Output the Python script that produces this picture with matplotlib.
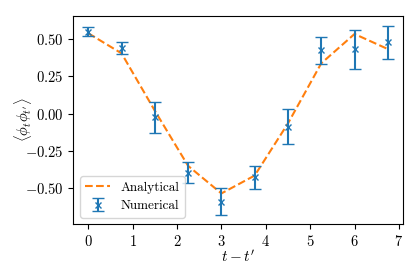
import numpy as np
import matplotlib
matplotlib.use('Agg')
from matplotlib import pyplot as plt

# font like LaTeX output
plt.rcParams['font.family'] = 'serif'
plt.rcParams['font.serif'] = ['cmr10', 'DejaVu Serif']
plt.rcParams['mathtext.fontset'] = 'cm'
plt.rcParams['axes.formatter.use_mathtext'] = True

# data
t = [0, 0.75, 1.5, 2.25, 3, 3.75, 4.5, 5.25, 6, 6.75]
analytical = [0.54, 0.405, 0.02, -0.35, -0.535, -0.415, -0.065, 0.338, 0.535, 0.434]
numerical = [0.55, 0.44, -0.025, -0.396, -0.59, -0.427, -0.087, 0.425, 0.432, 0.478]
num_err = [0.03, 0.038, 0.105, 0.07, 0.09, 0.078, 0.118, 0.092, 0.13, 0.11]

fig = plt.figure(figsize=(4.2, 2.8), dpi=100)
ax = fig.add_axes([0.1745, 0.199, 0.7845, 0.744])

ax.plot(t, analytical, '--', color='C1', label='Analytical')
ax.errorbar(t, numerical, yerr=num_err, fmt='x', color='C0', capsize=4,
            markersize=4, label='Numerical')

ax.set_xticks(range(8))
ax.set_yticks([-0.5, -0.25, 0, 0.25, 0.5])
ax.set_ylim(-0.742, 0.656)
ax.tick_params(labelsize=10.5)
ax.set_xlabel(r"$t - t'$", fontsize=11)
ax.set_ylabel(r"$\langle \phi_t \phi_{t'} \rangle$", fontsize=10.5)
ax.xaxis.set_label_coords(0.5, -0.12)
ax.yaxis.set_label_coords(-0.118, 0.5)
ax.legend(loc='lower left', fontsize=9.5, handlelength=1.9)

fig.savefig('out.png', dpi=100)
